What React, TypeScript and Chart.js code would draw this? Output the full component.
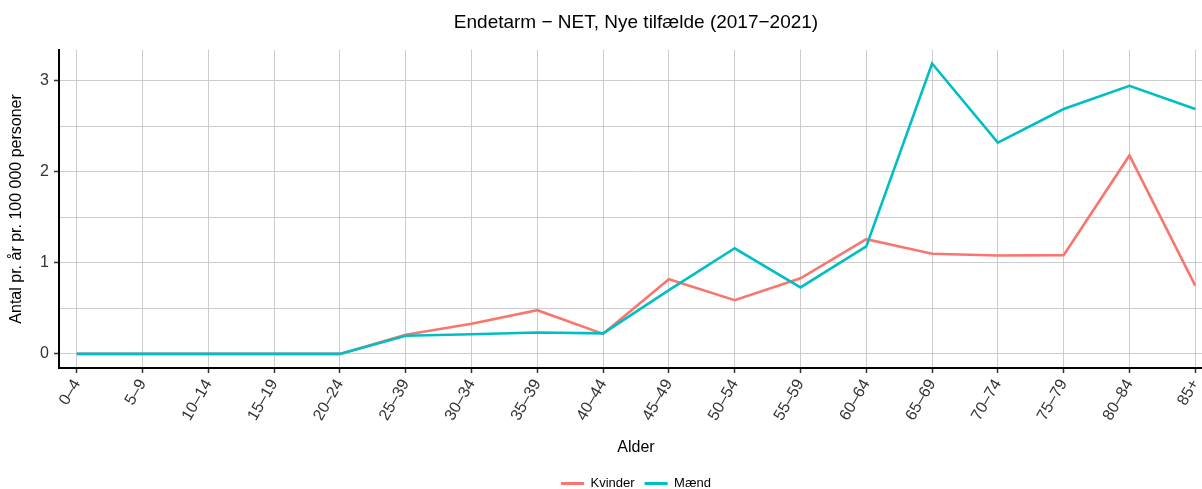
import React, { useEffect, useRef } from "react";
import { Chart, registerables } from "chart.js";

Chart.register(...registerables);

const categories = [
  "0–4", "5–9", "10–14", "15–19", "20–24", "25–39", "30–34", "35–39", "40–44",
  "45–49", "50–54", "55–59", "60–64", "65–69", "70–74", "75–79", "80–84", "85+",
];
const kvinder = [0, 0, 0, 0, 0, 0.21, 0.33, 0.48, 0.22, 0.82, 0.59, 0.83, 1.26, 1.1, 1.08, 1.085, 2.18, 0.75];
const maend = [0, 0, 0, 0, 0, 0.2, 0.215, 0.235, 0.225, 0.7, 1.16, 0.73, 1.18, 3.19, 2.32, 2.69, 2.945, 2.69];
const yTicks = [0, 0.5, 1, 1.5, 2, 2.5, 3];

const RED = "#F8766D";
const CYAN = "#00BFC4";
const FONT = "'Liberation Sans', Arial, sans-serif";

const App = () => {
  const canvasRef = useRef<HTMLCanvasElement>(null);

  useEffect(() => {
    if (!canvasRef.current) return;
    const ctx = canvasRef.current.getContext("2d") as CanvasRenderingContext2D;
    Chart.defaults.font.family = FONT;

    const chart = new Chart(ctx, {
      type: "line",
      data: {
        datasets: [
          {
            label: "Kvinder",
            data: kvinder.map((v, i) => ({ x: i, y: v })),
            borderColor: RED,
            backgroundColor: RED,
            borderWidth: 2.6,
            pointRadius: 0,
            tension: 0,
            order: 1,
          },
          {
            label: "Mænd",
            data: maend.map((v, i) => ({ x: i, y: v })),
            borderColor: CYAN,
            backgroundColor: CYAN,
            borderWidth: 2.6,
            pointRadius: 0,
            tension: 0,
            order: 0,
          },
        ],
      },
      options: {
        animation: false,
        responsive: true,
        maintainAspectRatio: false,
        layout: { padding: { top: 0, right: 9, bottom: 0, left: 0 } },
        scales: {
          x: {
            type: "linear",
            min: -0.27,
            max: 17.27,
            afterBuildTicks: (scale: any) => {
              scale.ticks = categories.map((_, i) => ({ value: i }));
            },
            afterFit: (scale: any) => {
              scale.height = 99;
            },
            ticks: {
              autoSkip: false,
              minRotation: 60,
              maxRotation: 60,
              padding: 3,
              color: "#333",
              font: { size: 16 },
              callback: (v: any) => categories[v as number] ?? "",
            },
            grid: {
              color: "#cccccc",
              lineWidth: 1,
              tickLength: 5,
              tickColor: "#333",
              tickWidth: 1.5,
            },
            border: { display: true, color: "#000", width: 2 },
            title: {
              display: true,
              text: "Alder",
              color: "#000",
              font: { size: 16 },
              padding: { top: 4, bottom: 10 },
            },
          },
          y: {
            type: "linear",
            min: -0.155,
            max: 3.34,
            afterBuildTicks: (scale: any) => {
              scale.ticks = yTicks.map((value) => ({ value }));
            },
            afterFit: (scale: any) => {
              scale.width = 59;
            },
            ticks: {
              padding: 5,
              color: "#333",
              font: { size: 16 },
              callback: (v: any) => (Number.isInteger(v) ? String(v) : ""),
            },
            grid: {
              color: "#cccccc",
              lineWidth: 1,
              tickLength: 5,
              tickWidth: 1.5,
              tickColor: (c: any) => (c.tick && Number.isInteger(c.tick.value) ? "#333" : "rgba(0,0,0,0)"),
            },
            border: { display: true, color: "#000", width: 2 },
            title: {
              display: true,
              text: "Antal pr. år pr. 100 000 personer",
              color: "#000",
              font: { size: 16 },
              padding: { top: 7, bottom: 0 },
            },
          },
        },
        plugins: {
          title: {
            display: true,
            fullSize: false,
            text: "Endetarm − NET, Nye tilfælde (2017−2021)",
            color: "#000",
            font: { size: 19, weight: "normal" },
            padding: { top: 11, bottom: 16 },
          },
          legend: {
            position: "bottom",
            fullSize: false,
            labels: {
              boxWidth: 23,
              boxHeight: 3,
              padding: 10,
              color: "#000",
              font: { size: 13 },
              generateLabels: () => [
                { text: "Kvinder", fillStyle: RED, strokeStyle: RED, lineWidth: 0, hidden: false, datasetIndex: 0, fontColor: "#000" },
                { text: "Mænd", fillStyle: CYAN, strokeStyle: CYAN, lineWidth: 0, hidden: false, datasetIndex: 1, fontColor: "#000" },
              ],
            },
          },
          tooltip: { enabled: false },
        },
      },
    });

    return () => {
      chart.destroy();
    };
  }, []);

  return (
    <div style={{ position: "fixed", left: 0, top: 0, width: "1202px", height: "489px", overflow: "hidden", background: "#fff" }}>
      <div style={{ width: "1222px", height: "500px" }}>
        <canvas ref={canvasRef} />
      </div>
    </div>
  );
};

export default App;
